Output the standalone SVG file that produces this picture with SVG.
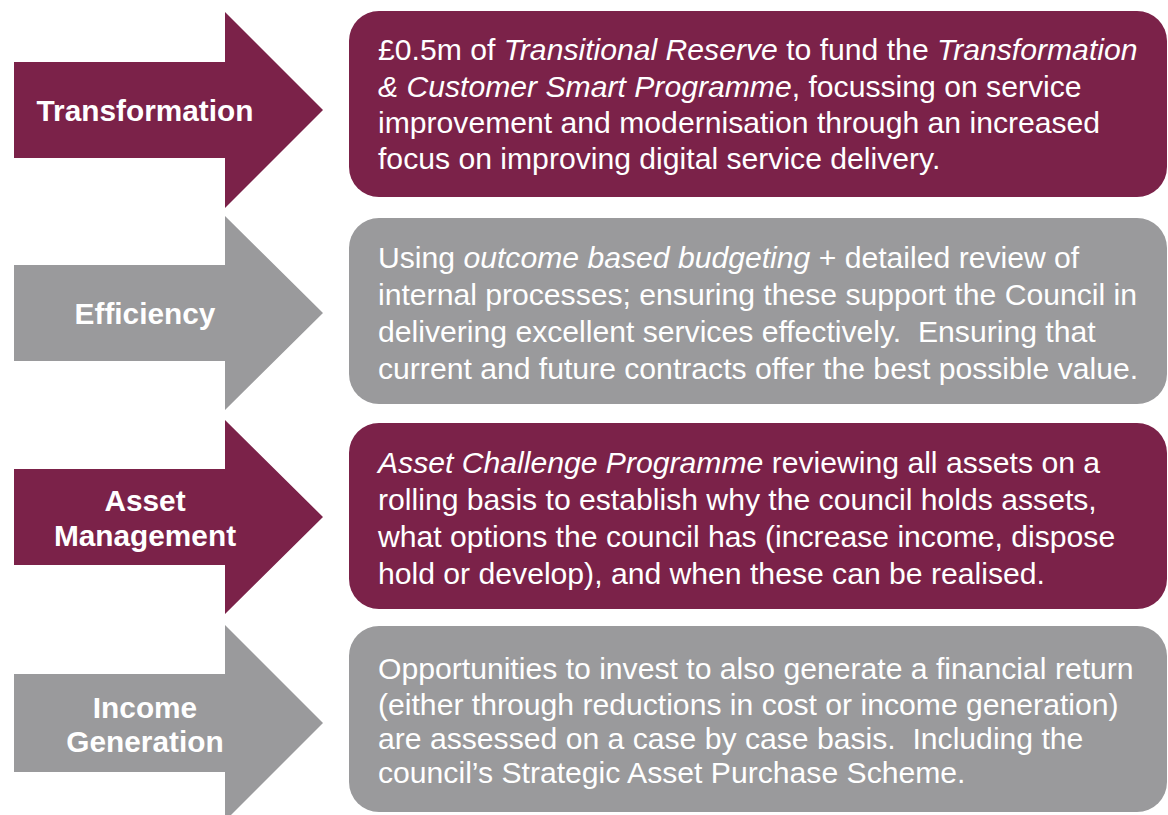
<svg xmlns="http://www.w3.org/2000/svg" width="1168" height="815" viewBox="0 0 1168 815">
<style>
.m{fill:#7B2249}
.g{fill:#9A9A9C}
.lbl{font-family:"Liberation Sans",Arial,sans-serif;font-weight:bold;font-size:29.8px;fill:#fff;text-anchor:middle}
.txt{font-family:"Liberation Sans",Arial,sans-serif;font-size:30.15px;fill:#fff;white-space:pre}
.i{font-style:italic}
</style>
<rect width="1168" height="815" fill="#fff"/>
<g id="arrow-transformation">
<polygon class="m" points="14,62 225,62 225,12 323,110 225,208 225,158 14,158"/>
<text class="lbl" x="145" y="121">Transformation</text>
</g>
<g id="arrow-efficiency">
<polygon class="g" points="14,265 225,265 225,216 323,313 225,410 225,361 14,361"/>
<text class="lbl" x="145" y="324">Efficiency</text>
</g>
<g id="arrow-asset">
<polygon class="m" points="14,469 225,469 225,420 323,517 225,614 225,565 14,565"/>
<text class="lbl" x="145" y="511">Asset</text>
<text class="lbl" x="145" y="546">Management</text>
</g>
<g id="arrow-income">
<polygon class="g" points="14,674 225,674 225,625 323,723 225,821 225,772 14,772"/>
<text class="lbl" x="145" y="718">Income</text>
<text class="lbl" x="145" y="752">Generation</text>
</g>
<g id="box-transformation">
<rect class="m" x="349" y="11" width="818" height="186" rx="30"/>
<text class="txt"><tspan x="378" y="60">£0.5m of <tspan class="i">Transitional Reserve</tspan> to fund the <tspan class="i">Transformation</tspan></tspan><tspan x="378" y="96.5"><tspan class="i">&amp; Customer Smart Programme</tspan>, focussing on service</tspan><tspan x="378" y="133">improvement and modernisation through an increased</tspan><tspan x="378" y="169">focus on improving digital service delivery.</tspan></text>
</g>
<g id="box-efficiency">
<rect class="g" x="349" y="218" width="818" height="186" rx="30"/>
<text class="txt"><tspan x="378" y="268">Using <tspan class="i">outcome based budgeting</tspan> + detailed review of</tspan><tspan x="378" y="305">internal processes; ensuring these support the Council in</tspan><tspan x="378" y="342">delivering excellent services effectively.  Ensuring that</tspan><tspan x="378" y="379">current and future contracts offer the best possible value.</tspan></text>
</g>
<g id="box-asset">
<rect class="m" x="349" y="423" width="818" height="186" rx="30"/>
<text class="txt"><tspan x="378" y="473"><tspan class="i">Asset Challenge Programme</tspan> reviewing all assets on a</tspan><tspan x="378" y="510">rolling basis to establish why the council holds assets,</tspan><tspan x="378" y="547">what options the council has (increase income, dispose</tspan><tspan x="378" y="584">hold or develop), and when these can be realised.</tspan></text>
</g>
<g id="box-income">
<rect class="g" x="349" y="626" width="818" height="186" rx="30"/>
<text class="txt"><tspan x="378" y="679">Opportunities to invest to also generate a financial return</tspan><tspan x="378" y="715">(either through reductions in cost or income generation)</tspan><tspan x="378" y="749">are assessed on a case by case basis.  Including the</tspan><tspan x="378" y="783">council’s Strategic Asset Purchase Scheme.</tspan></text>
</g>
<g id="connectors"></g>
</svg>
